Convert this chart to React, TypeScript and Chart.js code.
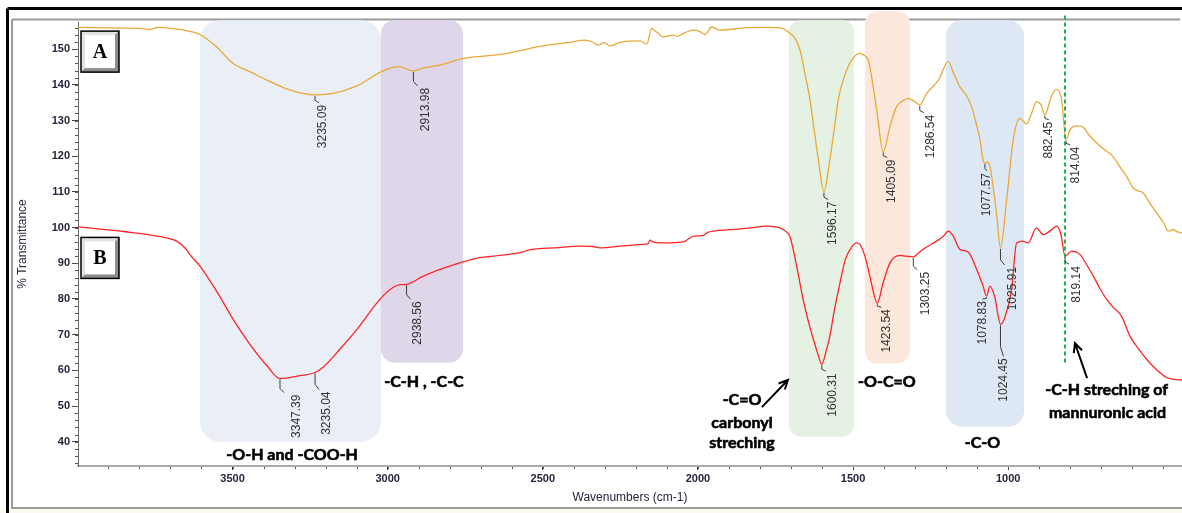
import React, { useEffect, useRef } from 'react';
import { Chart, registerables } from 'chart.js';

Chart.register(...registerables);

const W = 1182;
const H = 513;

// ---- Spectrum A (orange) ----
const wnA = [3998, 3850, 3800, 3766, 3740, 3690, 3650, 3605, 3550, 3498, 3440, 3389, 3314, 3234, 3176, 3099, 3015, 2966, 2917, 2880, 2831, 2756, 2638, 2488, 2420, 2364, 2340, 2321, 2303, 2284, 2251, 2187, 2165, 2149, 2140, 2133, 2112, 2095, 2080, 2065, 2052, 2015, 1995, 1977, 1956, 1929, 1900, 1843, 1768, 1730, 1703, 1687, 1671, 1655, 1639, 1625, 1612, 1594, 1575, 1560, 1548, 1521, 1500, 1478, 1465, 1451, 1438, 1424, 1403, 1381, 1360, 1340, 1322, 1300, 1285, 1263, 1225, 1193, 1175, 1156, 1135, 1118, 1100, 1091, 1080, 1075, 1068, 1059, 1045, 1037, 1025, 1005, 984, 962, 941, 925, 909, 895, 882, 860, 844, 828, 814, 800, 791, 775, 758, 740, 715, 690, 662, 640, 618, 597, 582, 565, 545, 522, 500, 484, 468, 455, 440];
const tA = [156.1, 155.9, 155.8, 155.5, 156.1, 155.7, 155.2, 154.1, 150.5, 146.0, 143.5, 141.3, 138.5, 137.2, 137.6, 139.7, 143.9, 145.1, 143.9, 144.8, 145.5, 147.4, 148.5, 151.1, 151.8, 152.5, 152.0, 151.1, 151.9, 150.9, 151.9, 152.3, 151.4, 155.8, 155.2, 154.8, 153.4, 153.7, 153.9, 153.6, 154.2, 155.3, 155.0, 154.1, 156.2, 155.3, 155.5, 156.0, 156.1, 155.9, 154.4, 153.0, 149.7, 143.0, 135.8, 127.0, 119.0, 110.1, 119.0, 128.0, 135.8, 144.1, 147.5, 148.8, 148.3, 146.9, 141.0, 133.0, 121.3, 128.3, 133.9, 135.5, 136.2, 135.2, 134.4, 137.6, 141.3, 146.5, 143.0, 139.5, 137.0, 133.9, 128.0, 124.6, 118.5, 118.1, 118.3, 117.1, 109.0, 103.2, 94.3, 107.8, 124.6, 130.6, 129.0, 132.0, 135.3, 134.5, 131.6, 137.0, 138.7, 135.8, 124.6, 127.5, 128.3, 128.5, 128.1, 126.0, 123.7, 121.8, 119.9, 117.0, 114.3, 111.1, 110.3, 109.7, 107.0, 104.1, 101.5, 99.0, 99.4, 98.8, 98.5];

// ---- Spectrum B (red) ----
const wnB = [3998, 3850, 3712, 3680, 3650, 3638, 3605, 3550, 3498, 3444, 3389, 3347, 3283, 3234, 3209, 3154, 3099, 3025, 2983, 2960, 2939, 2885, 2831, 2767, 2708, 2670, 2563, 2547, 2450, 2380, 2340, 2316, 2250, 2176, 2160, 2155, 2145, 2112, 2047, 2015, 1983, 1967, 1897, 1830, 1779, 1750, 1736, 1715, 1704, 1693, 1677, 1661, 1645, 1628, 1615, 1601, 1588, 1575, 1560, 1542, 1525, 1505, 1489, 1478, 1462, 1446, 1422, 1403, 1381, 1349, 1330, 1306, 1290, 1274, 1231, 1210, 1193, 1177, 1156, 1134, 1123, 1102, 1081, 1070, 1059, 1043, 1025, 1011, 989, 973, 952, 936, 909, 887, 866, 844, 830, 817, 796, 769, 750, 726, 705, 683, 660, 635, 608, 580, 554, 520, 490, 465, 440];
const tB = [100.2, 98.9, 97.1, 96.2, 94.0, 92.5, 89.2, 82.0, 74.3, 67.3, 61.3, 57.7, 58.5, 59.4, 60.8, 65.9, 71.5, 79.9, 83.2, 84.0, 84.1, 86.4, 88.3, 90.1, 91.5, 91.9, 93.2, 93.7, 94.4, 94.8, 94.7, 94.3, 94.8, 95.3, 95.5, 96.5, 96.0, 95.7, 96.0, 97.6, 97.8, 98.7, 99.4, 99.9, 100.4, 100.2, 99.9, 98.8, 97.6, 93.9, 87.0, 79.9, 74.0, 68.7, 65.0, 61.7, 65.0, 69.6, 77.0, 84.6, 91.1, 94.5, 95.7, 95.3, 92.0, 86.4, 78.8, 84.6, 90.1, 92.2, 92.0, 91.8, 92.8, 93.9, 96.2, 97.5, 99.0, 97.6, 93.9, 93.4, 92.5, 88.3, 83.6, 80.8, 83.6, 80.4, 72.9, 74.8, 82.7, 95.7, 96.2, 95.7, 99.9, 98.0, 99.0, 100.4, 98.0, 92.0, 93.4, 92.5, 90.0, 86.4, 83.0, 79.9, 77.5, 75.2, 69.6, 66.0, 63.1, 60.0, 58.0, 57.5, 57.3];

// ---- Axes ----
const xTickValues = [1000, 1500, 2000, 2500, 3000, 3500];
const yTickValues = [40, 50, 60, 70, 80, 90, 100, 110, 120, 130, 140, 150];
const xMin = 440;
const xMax = 3998;
const yMin = 33.2;
const yMax = 157.6;

// ---- Peak labels ----
const peakAText = ['3235.09', '2913.98', '1596.17', '1405.09', '1286.54', '1077.57', '1025.91', '882.45', '814.04'];
const peakAWn = [3234, 2917, 1594, 1403, 1285, 1075, 1025, 882, 814];
const peakAT = [137.2, 143.9, 110.1, 121.3, 134.4, 118.1, 94.3, 131.6, 124.6];
const peakBText = ['3347.39', '3235.04', '2938.56', '1600.31', '1423.54', '1303.25', '1078.83', '1024.45', '819.14'];
const peakBWn = [3347, 3234, 2939, 1601, 1422, 1306, 1070, 1025, 817];
const peakBT = [57.7, 59.4, 84.1, 61.7, 78.8, 91.8, 80.8, 72.9, 92.0];

// ---- Highlighted bands ----
const bandStartWn = [3605, 3022, 1707, 1462, 1201];
const bandEndWn = [3022, 2757, 1497, 1317, 949];
const bandBottomT = [40.0, 62.1, 41.4, 62.0, 44.2];
const bandTopT = [158.1, 158.1, 158.1, 160.6, 158.1];

// ---- Group annotations ----
const noteText = ['-O-H and -COO-H', '-C-H , -C-C', '-C=O', 'carbonyl', 'streching', '-O-C=O', '-C-O', '-C-H streching of', 'mannuronic acid'];
const noteWn = [3308, 2883, 1858, 1858, 1858, 1391, 1083, 683, 680];
const noteT = [36.3, 56.7, 51.7, 45.2, 39.6, 56.8, 39.6, 54.5, 48.1];

const arrowFromWn = [1794, 746];
const arrowFromT = [49.7, 57.8];
const arrowToWn = [1710, 785];
const arrowToT = [57.3, 67.6];

const markerWn = [817];
const markerFromT = [62.0];
const markerToT = [159.4];

const panelText = ['A', 'B'];
const panelT = [149.3, 91.5];

// ---- Styles ----
const bandFill = ['#e9eef7', '#e0d6ea', '#e5f1e2', '#fce7dc', '#dde8f4'];
const bandRadius = [20, 14, 12, 12, 16];
const leaderStyle: Record<string, [number, number]> = {
  '3235.09': [8, 8], '2913.98': [15, 12], '1596.17': [8, 9], '1405.09': [6, 8], '1286.54': [8, 11],
  '1077.57': [8, 2], '1025.91': [17, 12], '882.45': [5, 4], '814.04': [5, 10],
  '3347.39': [14, 17], '3235.04': [17, 12], '2938.56': [15, 11], '1600.31': [7, 11], '1423.54': [4, 9],
  '1303.25': [13, 12], '1078.83': [3, -4], '1024.45': [32, 3], '819.14': [8, 12],
};
const SANS = '"Liberation Sans", Arial, sans-serif';
const NOTE_FONT = 'bold 16px Lato, "Open Sans", sans-serif';

const toPoints = (xs: number[], ys: number[]) => xs.map((x, i) => ({ x, y: ys[i] }));

function drawArrow(ctx: CanvasRenderingContext2D, x1: number, y1: number, x2: number, y2: number) {
  const a = Math.atan2(y2 - y1, x2 - x1);
  const hl = 10;
  ctx.beginPath();
  ctx.moveTo(x1, y1);
  ctx.lineTo(x2, y2);
  ctx.moveTo(x2 - hl * Math.cos(a - 0.45), y2 - hl * Math.sin(a - 0.45));
  ctx.lineTo(x2, y2);
  ctx.lineTo(x2 - hl * Math.cos(a + 0.45), y2 - hl * Math.sin(a + 0.45));
  ctx.stroke();
}

const decorPlugin = {
  id: 'decor',
  beforeDraw(chart: any) {
    const ctx: CanvasRenderingContext2D = chart.ctx;
    ctx.save();
    ctx.fillStyle = '#ffffff';
    ctx.fillRect(0, 0, W, H);
    ctx.fillStyle = '#fbf9f1';
    ctx.fillRect(0, 509, W, H - 509);
    ctx.strokeStyle = '#000';
    ctx.lineWidth = 3;
    ctx.beginPath();
    ctx.moveTo(7.5, 8.5);
    ctx.lineTo(W, 8.5);
    ctx.moveTo(7.5, 8.5);
    ctx.lineTo(7.5, H);
    ctx.stroke();
    ctx.strokeStyle = '#9a9a9a';
    ctx.lineWidth = 2;
    ctx.beginPath();
    ctx.moveTo(12, 19.5);
    ctx.lineTo(1180, 19.5);
    ctx.moveTo(12, 19.5);
    ctx.lineTo(12, 508);
    ctx.lineTo(W, 508);
    ctx.stroke();
    ctx.restore();
  },
  beforeDatasetsDraw(chart: any) {
    const ctx: CanvasRenderingContext2D = chart.ctx;
    const xs = chart.scales.x;
    const ys = chart.scales.y;
    ctx.save();
    bandStartWn.forEach((w0, i) => {
      const xa = xs.getPixelForValue(w0);
      const xb = xs.getPixelForValue(bandEndWn[i]);
      const ya = ys.getPixelForValue(bandTopT[i]);
      const yb = ys.getPixelForValue(bandBottomT[i]);
      ctx.fillStyle = bandFill[i];
      ctx.beginPath();
      (ctx as any).roundRect(Math.min(xa, xb), ya, Math.abs(xb - xa), yb - ya, bandRadius[i]);
      ctx.fill();
    });
    ctx.restore();
  },
  afterDatasetsDraw(chart: any) {
    const ctx: CanvasRenderingContext2D = chart.ctx;
    const xs = chart.scales.x;
    const ys = chart.scales.y;
    const area = chart.chartArea;
    ctx.save();

    // minor ticks on y axis
    ctx.strokeStyle = '#555';
    ctx.lineWidth = 1;
    ctx.beginPath();
    for (let v = 34; v <= 156; v += 2) {
      const y = Math.round(ys.getPixelForValue(v)) + 0.5;
      ctx.moveTo(area.left - 3, y);
      ctx.lineTo(area.left, y);
    }
    // minor ticks on x axis
    for (let v = 500; v <= 3900; v += 100) {
      const x = Math.round(xs.getPixelForValue(v)) + 0.5;
      ctx.moveTo(x, area.bottom + 1);
      ctx.lineTo(x, area.bottom + 3);
    }
    ctx.stroke();

    // green dashed marker
    ctx.strokeStyle = '#1fb24a';
    ctx.lineWidth = 2;
    ctx.setLineDash([4, 3]);
    markerWn.forEach((w, i) => {
      const x = xs.getPixelForValue(w);
      ctx.beginPath();
      ctx.moveTo(x, ys.getPixelForValue(markerToT[i]));
      ctx.lineTo(x, ys.getPixelForValue(markerFromT[i]));
      ctx.stroke();
    });
    ctx.setLineDash([]);

    // peak labels
    const drawPeaks = (texts: string[], wns: number[], ts: number[]) => {
      texts.forEach((txt, i) => {
        const px = xs.getPixelForValue(wns[i]);
        const py = ys.getPixelForValue(ts[i]);
        const [len, dx] = leaderStyle[txt] || [8, 8];
        ctx.strokeStyle = '#3a3a3a';
        ctx.lineWidth = 1;
        ctx.beginPath();
        ctx.moveTo(px, py + 1);
        ctx.lineTo(px, py + Math.max(2, len * 0.7));
        ctx.lineTo(px + Math.sign(dx) * Math.min(Math.abs(dx), 4), py + len);
        ctx.stroke();
        ctx.save();
        ctx.translate(px + dx, py + len + 2);
        ctx.rotate(-Math.PI / 2);
        ctx.fillStyle = '#333';
        ctx.font = '12px ' + SANS;
        ctx.textAlign = 'right';
        ctx.textBaseline = 'middle';
        ctx.fillText(txt, 0, 0);
        ctx.restore();
      });
    };
    drawPeaks(peakAText, peakAWn, peakAT);
    drawPeaks(peakBText, peakBWn, peakBT);

    // group annotations
    ctx.fillStyle = '#000';
    ctx.strokeStyle = '#000';
    ctx.lineWidth = 0.6;
    ctx.font = NOTE_FONT;
    ctx.textAlign = 'center';
    ctx.textBaseline = 'middle';
    noteText.forEach((t, i) => {
      const x = xs.getPixelForValue(noteWn[i]);
      const y = ys.getPixelForValue(noteT[i]);
      ctx.fillText(t, x, y);
      ctx.strokeText(t, x, y);
    });

    // arrows
    ctx.strokeStyle = '#000';
    ctx.lineWidth = 2;
    arrowFromWn.forEach((w, i) => {
      drawArrow(ctx, xs.getPixelForValue(w), ys.getPixelForValue(arrowFromT[i]), xs.getPixelForValue(arrowToWn[i]), ys.getPixelForValue(arrowToT[i]));
    });

    // panel labels A / B
    panelText.forEach((t, i) => {
      const cy = ys.getPixelForValue(panelT[i]);
      const bx = area.left + 3;
      const bw = 38;
      const bh = 41;
      const by = cy - bh / 2;
      ctx.fillStyle = '#8c8c8c';
      ctx.fillRect(bx, by, bw, bh);
      ctx.fillStyle = '#e2e2e2';
      ctx.beginPath();
      ctx.moveTo(bx, by);
      ctx.lineTo(bx + bw, by);
      ctx.lineTo(bx + bw - 5, by + 5);
      ctx.lineTo(bx + 5, by + bh - 5);
      ctx.lineTo(bx, by + bh);
      ctx.closePath();
      ctx.fill();
      ctx.fillStyle = '#ffffff';
      ctx.fillRect(bx + 4, by + 4, bw - 8, bh - 8);
      ctx.strokeStyle = '#000';
      ctx.lineWidth = 1.5;
      ctx.strokeRect(bx, by, bw, bh);
      ctx.fillStyle = '#000';
      ctx.font = 'bold 20px "Liberation Serif", "Times New Roman", serif';
      ctx.textAlign = 'center';
      ctx.textBaseline = 'middle';
      ctx.fillText(t, bx + bw / 2, cy + 1);
    });
    ctx.restore();
  },
};

export default function App() {
  const ref = useRef<HTMLCanvasElement>(null);
  useEffect(() => {
    document.body.style.margin = '0';
    const chart = new Chart(ref.current as HTMLCanvasElement, {
      type: 'line',
      data: {
        datasets: [
          {
            label: 'A',
            data: toPoints(wnA, tA),
            borderColor: '#e8a838',
            borderWidth: 1.3,
            pointRadius: 0,
            cubicInterpolationMode: 'monotone',
            fill: false,
          },
          {
            label: 'B',
            data: toPoints(wnB, tB),
            borderColor: '#ff2424',
            borderWidth: 1.3,
            pointRadius: 0,
            cubicInterpolationMode: 'monotone',
            fill: false,
          },
        ],
      },
      options: {
        responsive: false,
        animation: false,
        events: [],
        layout: { padding: { top: 22, left: 0, right: 0, bottom: 0 } },
        plugins: { legend: { display: false }, tooltip: { enabled: false } },
        scales: {
          x: {
            type: 'linear',
            reverse: true,
            min: xMin,
            max: xMax,
            afterBuildTicks: (s: any) => {
              s.ticks = xTickValues.map((v) => ({ value: v }));
            },
            afterFit: (s: any) => {
              s.height = 47;
            },
            grid: { display: true, drawOnChartArea: false, drawTicks: true, tickLength: 4, color: '#333', lineWidth: 1 },
            border: { display: true, color: '#ababab', width: 2 },
            ticks: {
              color: '#25253d',
              padding: 2,
              maxRotation: 0,
              font: { family: SANS, size: 11, weight: 'bold' },
              callback: (v: any) => String(v),
            },
            title: { display: true, text: 'Wavenumbers (cm-1)', color: '#25253d', font: { family: SANS, size: 12 }, padding: { top: 2, bottom: 8 } },
          },
          y: {
            type: 'linear',
            min: yMin,
            max: yMax,
            afterBuildTicks: (s: any) => {
              s.ticks = yTickValues.map((v) => ({ value: v }));
            },
            afterFit: (s: any) => {
              s.width = 78;
            },
            grid: { display: true, drawOnChartArea: false, drawTicks: true, tickLength: 6, color: '#444', lineWidth: 1 },
            border: { display: true, color: '#666', width: 1 },
            ticks: {
              color: '#25253d',
              padding: 2,
              font: { family: SANS, size: 11, weight: 'bold' },
              callback: (v: any) => String(v),
            },
            title: { display: true, text: '% Transmittance', color: '#2a2a40', font: { family: SANS, size: 12 }, padding: { top: 15, bottom: 0 } },
          },
        },
      },
      plugins: [decorPlugin],
    } as any);
    return () => chart.destroy();
  }, []);
  return (
    <div style={{ position: 'absolute', left: 0, top: 0, width: W, height: H }}>
      <canvas ref={ref} width={W} height={H} style={{ display: 'block', width: W, height: H }} />
    </div>
  );
}
